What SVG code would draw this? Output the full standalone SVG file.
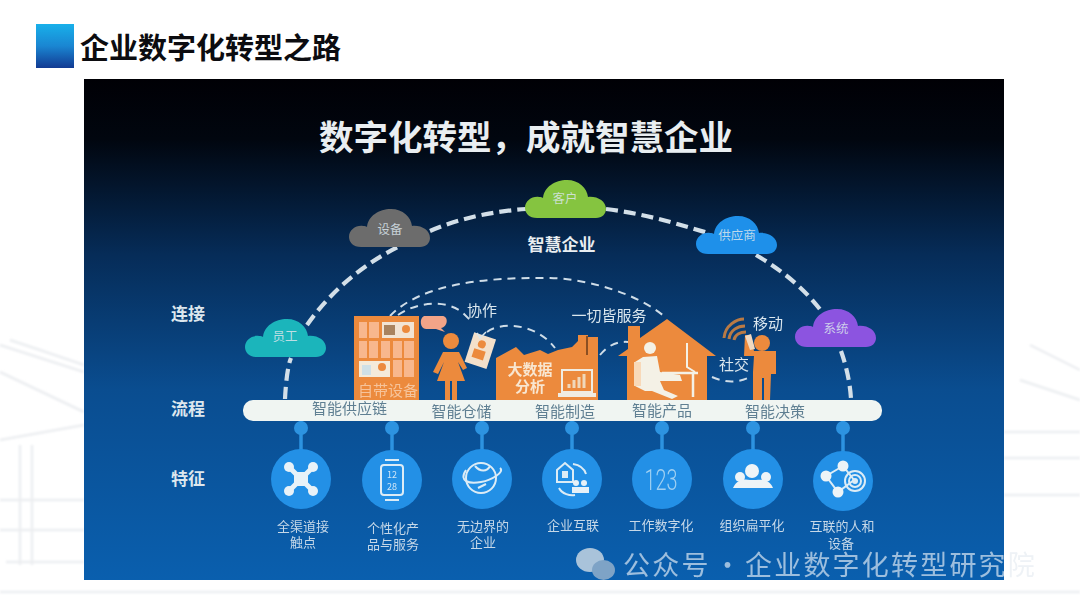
<svg xmlns="http://www.w3.org/2000/svg" xmlns:xlink="http://www.w3.org/1999/xlink" width="1080" height="608" viewBox="0 0 1080 608">
<style>
text{font-family:"Noto Sans CJK SC","Noto Sans",sans-serif;text-anchor:middle}
.ttl{font-weight:700;fill:#e9eef1}
.side{font-size:17px;font-weight:700;fill:#dde7ee}
.cl{font-size:12.5px;fill:#dbe6ec;fill-opacity:.85}
.bar{font-size:15px;fill:#5f7f92}
.lab{font-size:13px;fill:#c6d8e8}
.or{fill:#ec8a3d}
.ol{fill:#f8b78d}
.big{fill:none;stroke:#d3dfe8;stroke-width:4.2;stroke-dasharray:12 6}
.small{fill:none;stroke:#cfdde8;stroke-width:2;stroke-dasharray:8 6}
.stem{stroke:#2d93e0;stroke-width:3.5}
.dot{fill:#2d93e0}
.disc{fill:#2390e6}
.ln{fill:none;stroke:#dcecf6;stroke-width:2}
.ghost{fill:none;stroke:#eceef1;stroke-width:2.5}
.digits{font-family:"Roboto",sans-serif;font-weight:300;font-size:30px;fill:#9fd0f2}
.wm{text-anchor:start;font-size:27px;letter-spacing:2.2px;fill:#fff;fill-opacity:.6}
</style>
<defs>
<linearGradient id="pg" x1="0" y1="0" x2="0" y2="1">
<stop offset="0" stop-color="#000005"/><stop offset=".12" stop-color="#01060f"/><stop offset=".35" stop-color="#062c58"/><stop offset=".62" stop-color="#0a4d90"/><stop offset="1" stop-color="#0a5fae"/>
</linearGradient>
<linearGradient id="sq" x1="0" y1="0" x2="0" y2="1">
<stop offset="0" stop-color="#18b0ea"/><stop offset=".5" stop-color="#1a86d2"/><stop offset="1" stop-color="#123a92"/>
</linearGradient>
<path id="cloud" d="M12 38C4 38 0 33 0 28C0 21 7 16 14 17C16 17 17 17 18 18C19 7 30 0 42 0C54 0 62 8 63 17C72 16 81 21 81 29C81 34 77 38 71 38Z"/>
<filter id="soft"><feGaussianBlur stdDeviation=".45"/></filter>
<filter id="haze"><feGaussianBlur stdDeviation="1.200"/></filter>
</defs>
<rect width="1080" height="608" fill="#fff"/>
<g id="backdrop" filter="url(#haze)">
<path class="ghost" d="M0 345L84 372M10 340L40 350L84 365M0 372L84 412M0 440L84 425M20 445V565M32 445V565M0 500H84M0 530H84M6 562H84M0 592H84"/>
<path class="ghost" d="M1004 432H1080M1004 458H1080M1004 495H1080M1004 592H1080M1030 345L1080 370M1020 380L1080 400"/>
<path class="ghost" d="M84 592H1004"/>
</g>
<g id="heading">
<rect x="36" y="24" width="38" height="44" fill="url(#sq)"/>
<text x="210.500" y="59" font-size="29" font-weight="700" fill="#0c0c10">企业数字化转型之路</text>
</g>
<rect id="panel" x="84" y="79" width="920" height="501" fill="url(#pg)"/>
<text class="ttl" x="526" y="150" font-size="34.500">数字化转型，成就智慧企业</text>
<text class="ttl" x="561.500" y="251" font-size="17">智慧企业</text>
<text class="side" x="188" y="320">连接</text>
<text class="side" x="188" y="415">流程</text>
<text class="side" x="188" y="485">特征</text>
<g id="connectors">
<path class="big" d="M285 399C286 380 288 365 291 358"/>
<path class="big" d="M307 325C330 292 362 265 398 247"/>
<path class="big" d="M430 231C460 218 495 211 526 209"/>
<path class="big" d="M606 209C640 213 672 222 708 233"/>
<path class="big" d="M756 255C785 272 808 292 825 316"/>
<path class="big" d="M841 351C846 365 850 382 851 399"/>
<path class="small" d="M390 316C420 285 480 277 550 278C590 279 640 295 665 317"/>
<path class="small" d="M398 315C415 303 445 298 463 313L472 322"/>
<path class="small" d="M487 332C500 322 535 322 555 348"/>
<path class="small" d="M600 355C608 345 618 341 628 342"/>
<path class="small" d="M712 377C725 383 738 383 750 377"/>
<g id="stems">
<path class="stem" d="M301 421V452M392 421V452M482 421V452M572 421V452M662 421V452M753 421V452M843 421V452"/>
<circle class="dot" cx="301" cy="428" r="7"/><circle class="dot" cx="392" cy="428" r="7"/><circle class="dot" cx="482" cy="428" r="7"/><circle class="dot" cx="572" cy="428" r="7"/><circle class="dot" cx="662" cy="428" r="7"/><circle class="dot" cx="753" cy="428" r="7"/><circle class="dot" cx="843" cy="428" r="7"/>
</g>
</g>
<g id="cloud-yuangong"><use xlink:href="#cloud" href="#cloud" x="245" y="319" fill="#1bb5bb"/><text class="cl" x="285" y="341">员工</text></g>
<g id="cloud-shebei"><use xlink:href="#cloud" href="#cloud" x="349" y="209" fill="#6c6c6c"/><text class="cl" x="390" y="234">设备</text></g>
<g id="cloud-kehu"><use xlink:href="#cloud" href="#cloud" x="525" y="180" fill="#85c440"/><text class="cl" x="565" y="203">客户</text></g>
<g id="cloud-gongying"><use xlink:href="#cloud" href="#cloud" x="696" y="216" fill="#1e90ea"/><text class="cl" x="737" y="240">供应商</text></g>
<g id="cloud-xitong"><use xlink:href="#cloud" href="#cloud" x="795" y="309" fill="#8c54e0"/><text class="cl" x="836" y="333">系统</text></g>
<g id="scene" filter="url(#soft)">
<g id="building">
<rect class="or" x="354" y="316" width="65" height="85"/>
<g class="ol">
<rect x="359" y="322" width="8" height="16"/><rect x="369" y="322" width="10" height="16"/>
<rect x="359" y="341" width="8" height="17"/><rect x="369" y="341" width="9" height="17"/><rect x="381" y="341" width="9" height="17"/><rect x="393" y="341" width="9" height="17"/><rect x="404" y="341" width="10" height="17"/>
<rect x="393" y="360" width="9" height="17"/><rect x="404" y="360" width="10" height="17"/>
</g>
<rect x="382" y="322" width="32" height="16" fill="#f2e4d4"/><rect x="384" y="325" width="11" height="10" fill="#a9835f"/><circle cx="406" cy="329" r="4" fill="#ec8a3d"/>
<rect x="359" y="361" width="31" height="16" fill="#f4ead9"/><rect x="362" y="365" width="9" height="10" fill="#cfe0e6"/><circle cx="382" cy="367" r="4" fill="#ec8a3d"/>
<text x="388" y="396" font-size="15" fill="#f6c39a">自带设备</text>
</g>
<g id="person-woman">
<path d="M424 316H442C449 316 448 327 441 328L445 332L436 329H426C420 329 419 318 424 316Z" fill="#f2a488"/>
<circle class="or" cx="451" cy="341" r="8"/>
<path class="or" d="M443 352H459L467 368L463 370L458 362L465 381H457V400H452V381H450V400H445V381H437L444 362L438 374L433 372Z"/>
<g transform="rotate(18 480 350)"><rect x="469" y="335" width="23" height="31" fill="#f3e0cb"/><circle class="or" cx="480" cy="344" r="4"/><rect class="or" x="474" y="350" width="12" height="9"/></g>
<path d="M477 333L480 338L486 332" fill="none" stroke="#dbe6ec" stroke-width="1.500"/>
<text x="482" y="316" font-size="15" fill="#dbe7ee">协作</text>
</g>
<g id="factory">
<path class="or" d="M496 358L516 347L524 355L540 350L548 354L558 350L572 347L578 341V335H588V337H598V400H496Z"/>
<path d="M587 336V355" stroke="#6b3b1a" stroke-width="1.500"/>
<text x="530" y="375" font-size="15" font-weight="700" fill="#f8e6d0">大数据</text>
<text x="530" y="392" font-size="15" font-weight="700" fill="#f8e6d0">分析</text>
<rect x="562" y="370" width="30" height="22" fill="none" stroke="#f0ece2" stroke-width="2"/>
<path d="M558 395H596" stroke="#f0ece2" stroke-width="4"/>
<path d="M569 388V384M574 388V380M579 388V377M584 388V374" stroke="#f0d8ba" stroke-width="3"/>
<text x="609" y="321" font-size="15" fill="#dbe7ee">一切皆服务</text>
</g>
<g id="house">
<path class="or" d="M618 356L628 349V326H640V338L667 319L716 356H707V400H627V356Z"/>
<circle cx="650" cy="348" r="6" fill="#f4f1e6"/>
<path d="M643 357L657 356L660 372L680 375L682 381L660 381L664 390L678 396L672 399L652 391H645L635 386V362Z" fill="#f4f1e6"/>
<path d="M634 362L641 362L641 386L634 386Z" fill="#f8d9b9"/>
<path d="M662 373H698M693 373V397" stroke="#f4f1e6" stroke-width="2.500" fill="none"/>
<path d="M687 343V367L695 372" stroke="#f4f1e6" stroke-width="2" fill="none"/>
</g>
<g id="person-mobile">
<circle class="or" cx="762" cy="343" r="8"/>
<path class="or" d="M745 335H750L754 351H776V374H771L770 400H764V378H762V400H753V372L754 356H744Z"/>
<path d="M745 336L751 334L755 349L750 350Z" fill="#f1d9c1"/>
<path d="M724 338C725 325 737 319 744 319M729 339C730 330 738 326 745 326M734 340C735 335 740 332 746 332" fill="none" stroke="#b97a45" stroke-width="3"/>
<text x="768" y="329" font-size="15" fill="#dbe7ee">移动</text>
<text x="734" y="370" font-size="15" fill="#dbe7ee">社交</text>
</g>
</g>
<g id="bar">
<rect x="243" y="400" width="639" height="21" rx="10" fill="#f0f5f2"/>
<text class="bar" x="349.500" y="414">智能供应链</text>
<text class="bar" x="461.500" y="417">智能仓储</text>
<text class="bar" x="565" y="417">智能制造</text>
<text class="bar" x="662" y="416">智能产品</text>
<text class="bar" x="775" y="417">智能决策</text>
</g>
<g id="feat-1"><circle class="disc" cx="301" cy="479" r="30"/>
<path d="M289 467L313 491M313 467L289 491" stroke="#e9f2f8" stroke-width="5"/>
<g fill="#e9f2f8"><rect x="294" y="472" width="14" height="14"/><circle cx="289" cy="467" r="5"/><circle cx="313" cy="467" r="5"/><circle cx="289" cy="491" r="5"/><circle cx="313" cy="491" r="5"/></g>
<text class="lab" x="303" y="531">全渠道接</text><text class="lab" x="303" y="547">触点</text></g>
<g id="feat-2"><circle class="disc" cx="392" cy="480" r="30"/>
<rect x="381" y="465" width="22" height="30" rx="3" class="ln"/><path class="ln" d="M385 460H399M385 500H399"/>
<text x="392" y="478" font-size="9" fill="#cfe6f7">12</text><text x="392" y="490" font-size="9" fill="#cfe6f7">28</text>
<text class="lab" x="393" y="533">个性化产</text><text class="lab" x="393" y="549">品与服务</text></g>
<g id="feat-3"><circle class="disc" cx="482" cy="479" r="30"/>
<circle class="ln" cx="481" cy="478" r="15"/><path class="ln" d="M466 470C458 482 470 484 481 482C492 480 505 472 500 468M475 466C480 472 487 472 490 466M478 488L486 484"/>
<text class="lab" x="483" y="531">无边界的</text><text class="lab" x="483" y="547">企业</text></g>
<g id="feat-4"><circle class="disc" cx="572" cy="479" r="30"/>
<path d="M557 470L565 463L573 470V482H557Z" class="ln"/><rect x="562" y="471" width="6" height="7" fill="#dcecf6"/>
<path class="ln" d="M573 464C580 465 584 468 586 474M559 488C562 494 570 496 575 495"/>
<g fill="#e6f1f8"><circle cx="576" cy="483" r="3"/><circle cx="584" cy="483" r="3"/><rect x="572" y="487" width="17" height="6"/></g>
<text class="lab" x="573" y="530">企业互联</text></g>
<g id="feat-5"><circle class="disc" cx="662" cy="479" r="30"/>
<text class="digits" transform="translate(661 490) scale(.66 1)" x="0" y="0">123</text>
<text class="lab" x="661" y="530">工作数字化</text></g>
<g id="feat-6"><circle class="disc" cx="753" cy="479" r="30"/>
<g fill="#eef4f7"><circle cx="752" cy="471" r="7"/><circle cx="740" cy="477" r="5"/><circle cx="766" cy="477" r="5"/><path d="M733 488C737 479 745 479 750 480H756C762 479 770 480 773 488Z"/></g>
<text class="lab" x="752" y="530">组织扁平化</text></g>
<g id="feat-7"><circle class="disc" cx="843" cy="481" r="30"/>
<path d="M843 466L826 476L838 492L854 480Z" class="ln" stroke-width="3"/>
<g fill="#eef4f7"><circle cx="843" cy="466" r="5.500"/><circle cx="826" cy="476" r="5.500"/><circle cx="838" cy="492" r="5.500"/></g>
<circle cx="855" cy="481" r="10" class="ln" stroke-width="1.500"/><circle cx="855" cy="481" r="6" class="ln" stroke-width="1.500"/><circle cx="855" cy="481" r="3" fill="#dcecf6"/>
<text class="lab" x="842" y="531">互联的人和</text><text class="lab" x="841" y="548">设备</text></g>
<g id="watermark">
<ellipse cx="590" cy="560" rx="14" ry="12" fill="#a9c3da"/>
<ellipse cx="603.500" cy="570" rx="11.500" ry="10" fill="#7ea3c6"/>
<text class="wm" x="623" y="575">公众号<tspan x="714">·</tspan><tspan x="745">企业数字化转型研究</tspan><tspan style="fill:#eef2f6;fill-opacity:1">院</tspan></text>
</g>
</svg>
